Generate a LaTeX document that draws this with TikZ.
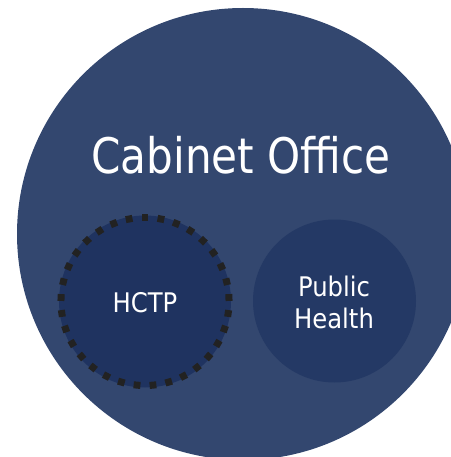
\documentclass[tikz,border=0pt]{standalone}
\usepackage{fontspec}
\setmainfont{DejaVu Sans Condensed}
\definecolor{bigblue}{RGB}{51,71,111}
\definecolor{hctpblue}{RGB}{31,51,96}
\definecolor{phblue}{RGB}{36,57,101}
\definecolor{dotgray}{RGB}{34,34,34}
\tikzset{
  label text/.style={text=white, inner sep=0pt},
  dotsq/.style={fill=dotgray},
}
\begin{document}
\begin{tikzpicture}[x=1bp,y=-1bp]
\useasboundingbox (0,0) rectangle (451,457);
\clip (0,0) rectangle (451,457);
\fill[bigblue] (243,234) circle[radius=226];
\fill[hctpblue] (145,301.5) circle[radius=86];
\foreach \i in {0,...,32}{
  \fill[dotsq, shift={(145,301.5)}, rotate={90+\i*360/33}] (80.5,-3.4) rectangle (87.5,3.4);
}
\fill[phblue] (334.5,301) circle[radius=81.5];
\node[label text, anchor=base, font=\fontsize{49bp}{58bp}\selectfont] (co) at (241,174) {\scalebox{0.955}[1]{Cabinet Office}};
\node[label text, anchor=base, font=\fontsize{27bp}{32bp}\selectfont] (hctp) at (145,312) {HCTP};
\node[label text, align=center, font=\fontsize{27bp}{32bp}\selectfont] (ph) at (334,302) {Public\\Health};
\end{tikzpicture}
\end{document}
